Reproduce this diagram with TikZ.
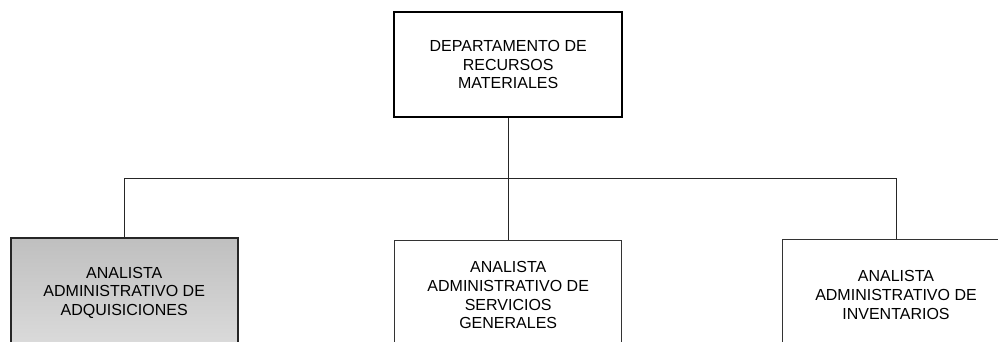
\documentclass[tikz,border=0pt]{standalone}
\usepackage{fontspec}
\setmainfont{Liberation Sans}
\begin{document}
\begin{tikzpicture}[x=1pt,y=-1pt,
  boxtext/.style={align=center,font=\fontsize{16}{18.6}\selectfont,inner sep=0pt},
  headbox/.style={boxtext,draw=black,line width=2pt,minimum width=227.7pt,minimum height=105pt},
  graybox/.style={boxtext,draw=black!85,line width=2pt,top color=black!25,bottom color=black!14,minimum width=227pt,minimum height=109.4pt},
  plainbox/.style={boxtext,draw=black!80,line width=1pt,minimum width=226.7pt,minimum height=109pt},
  link/.style={draw=black!85,line width=1pt}]
\useasboundingbox (0,0) rectangle (998,341);
\clip (0,0) rectangle (998,341);
\fill[white] (0,0) rectangle (998,341);
\node[headbox] (top) at (508.2,64.8) {DEPARTAMENTO DE\\RECURSOS\\MATERIALES};
\node[graybox] (left) at (124.2,292.7) {ANALISTA\\ADMINISTRATIVO DE\\ADQUISICIONES};
\node[plainbox] (mid) at (508.2,295.2) {ANALISTA\\ADMINISTRATIVO DE\\SERVICIOS\\GENERALES};
\node[plainbox,minimum width=227pt,minimum height=111.4pt] (right) at (896,295) {ANALISTA\\ADMINISTRATIVO DE\\INVENTARIOS};
\coordinate (bus) at (508.2,178.3);
\draw[link] (top.south) -- (mid.north);
\draw[link] (left.north) |- (bus) -| (right.north);
\end{tikzpicture}
\end{document}
